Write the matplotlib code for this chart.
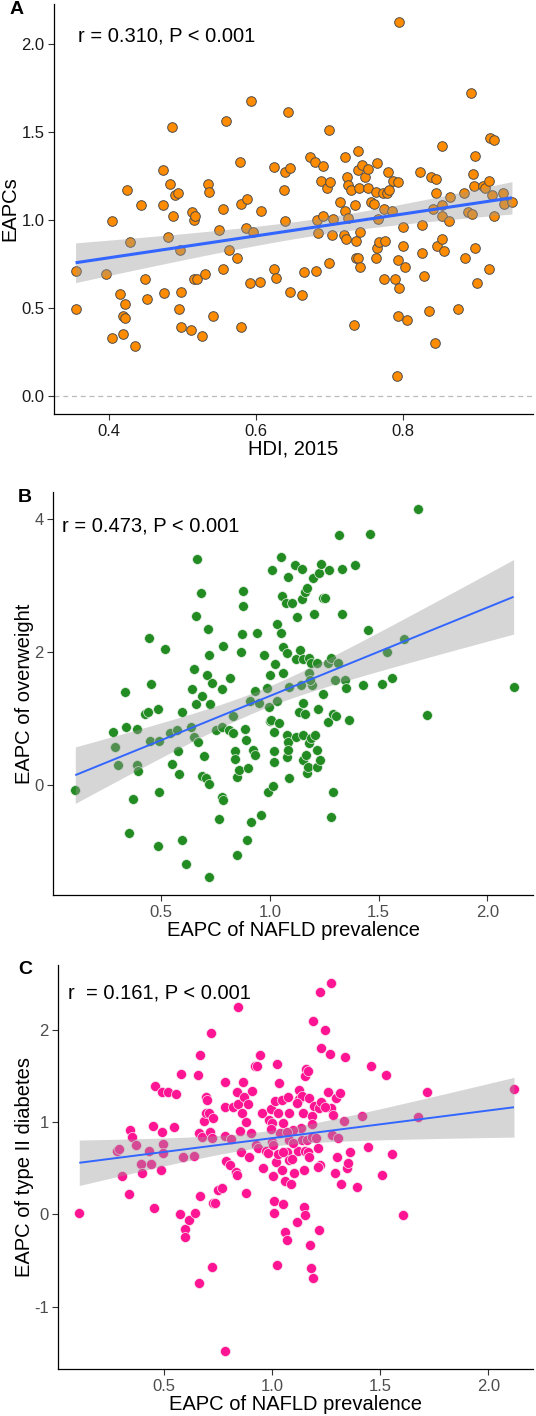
import numpy as np
import matplotlib
matplotlib.use("Agg")
import matplotlib.pyplot as plt

plt.rcParams['font.family'] = ['Liberation Sans', 'DejaVu Sans']
plt.rcParams['axes.unicode_minus'] = False

# ---------------- Panel A data: HDI 2015 vs EAPCs ----------------
hdi = [0.354, 0.354, 0.396, 0.403, 0.404, 0.415, 0.419, 0.421, 0.418, 0.421,
       0.424, 0.428, 0.435, 0.443, 0.448, 0.452, 0.473, 0.473, 0.475, 0.480,
       0.483, 0.486, 0.487, 0.490, 0.493, 0.495, 0.497, 0.498, 0.498, 0.512,
       0.513, 0.515, 0.517, 0.516, 0.519, 0.527, 0.531, 0.534, 0.536, 0.541,
       0.550, 0.555, 0.555, 0.559, 0.563, 0.574, 0.578, 0.579, 0.579, 0.586,
       0.588, 0.592, 0.593, 0.596, 0.605, 0.607, 0.624, 0.625, 0.627, 0.638,
       0.639, 0.640, 0.643, 0.646, 0.646,
       0.663, 0.666, 0.674, 0.680, 0.682, 0.683, 0.684, 0.688, 0.691, 0.692,
       0.697, 0.699, 0.700, 0.701, 0.703, 0.705, 0.715, 0.720, 0.721, 0.721,
       0.723, 0.724, 0.726, 0.726, 0.729, 0.734, 0.735, 0.737, 0.737, 0.739,
       0.739, 0.739, 0.741, 0.742, 0.742, 0.744, 0.749, 0.753, 0.753, 0.757,
       0.761, 0.763, 0.763, 0.765, 0.765, 0.766, 0.768, 0.773, 0.774, 0.775,
       0.776, 0.778, 0.780, 0.782, 0.785, 0.787, 0.790, 0.792, 0.793, 0.793,
       0.794, 0.795, 0.795, 0.800, 0.801, 0.803, 0.806, 0.823, 0.826, 0.826,
       0.829, 0.836, 0.838, 0.845, 0.841, 0.844, 0.845, 0.847, 0.854, 0.854,
       0.854, 0.854, 0.857, 0.863, 0.864, 0.876, 0.883, 0.885, 0.889, 0.894,
       0.893, 0.896, 0.897, 0.898, 0.899, 0.902, 0.909, 0.912, 0.918, 0.918,
       0.919, 0.925, 0.922, 0.924, 0.937, 0.938, 0.949]
eapc_a = [0.712, 0.491, 0.693, 0.992, 0.330, 0.581, 0.353, 0.522, 0.453, 0.440,
          1.171, 0.873, 0.281, 1.082, 0.662, 0.552, 1.281, 1.082, 0.583, 0.901,
          1.203, 1.531, 1.023, 1.142, 1.152, 0.491, 0.831, 0.590, 0.393, 0.372,
          1.044, 1.000, 1.023, 0.662, 0.662, 0.342, 0.693, 1.203, 1.161, 0.453,
          0.941, 1.061, 0.723, 1.564, 0.831, 0.782, 1.332, 1.093, 0.393, 0.953,
          1.121, 0.639, 1.674, 0.934, 0.649, 1.051, 0.723, 1.302, 0.672, 1.171,
          1.273, 0.992, 1.613, 1.294, 0.592,
          0.573, 0.702, 1.355, 1.330, 0.712, 1.000, 0.924, 1.222, 1.304, 1.023,
          1.184, 0.753, 1.512, 1.213, 0.913, 1.004, 1.102, 0.913, 1.355, 1.053,
          0.894, 1.245, 1.008, 1.197, 1.171, 0.402, 1.082, 0.882, 0.782, 0.782,
          1.393, 1.283, 1.180, 0.934, 0.732, 1.311, 1.245, 1.292, 1.180, 1.104,
          1.093, 1.161, 0.782, 0.841, 1.323, 1.004, 0.873, 1.152, 1.061, 0.662,
          0.882, 1.152, 1.273, 1.171, 1.053, 1.222, 0.662, 0.110, 0.453, 0.772,
          1.213, 0.613, 2.123, 0.962, 0.852, 0.732, 0.431, 1.271, 0.812, 0.972,
          0.681, 0.482, 1.243, 1.231, 1.063, 0.302, 1.152, 0.852, 0.892, 1.421,
          1.023, 1.083, 0.822, 0.992, 1.133, 0.491, 1.152, 0.782, 1.044, 1.032,
          1.723, 1.262, 1.194, 1.362, 0.843, 0.641, 1.194, 1.184, 1.222, 0.723,
          1.465, 1.453, 1.142, 1.023, 1.152, 1.091, 1.102]

# ---------------- Panel B data: NAFLD EAPC vs overweight EAPC ----------------
nafld_b = [0.106, 0.279, 0.290, 0.302, 0.335, 0.341, 0.351, 0.370, 0.390, 0.391,
           0.396, 0.425, 0.439, 0.446, 0.451, 0.455, 0.485, 0.491, 0.492, 0.488,
           0.517, 0.540, 0.552, 0.574, 0.577, 0.583, 0.595, 0.595, 0.613, 0.636,
           0.642, 0.653, 0.653, 0.662, 0.662, 0.664, 0.671, 0.684, 0.690, 0.698,
           0.688, 0.705, 0.714, 0.719, 0.722, 0.713, 0.725, 0.734, 0.722, 0.753,
           0.767, 0.780, 0.782, 0.783, 0.782, 0.783, 0.811, 0.816, 0.832, 0.832,
           0.842, 0.840, 0.849, 0.851, 0.860, 0.868, 0.871, 0.878, 0.878, 0.888,
           0.892, 0.895, 0.898, 0.907, 0.915, 0.924, 0.934, 0.932, 0.941, 0.952,
           0.958, 0.973, 0.986, 0.990, 0.998, 1.001, 1.006, 1.003, 1.009, 1.013,
           1.019, 1.019, 1.021, 1.024, 1.032, 1.033, 1.044, 1.051, 1.051, 1.056,
           1.061, 1.062, 1.073, 1.078, 1.078, 1.078, 1.085, 1.090, 1.090, 1.084,
           1.085,
           1.118, 1.124, 1.122, 1.119, 1.133, 1.140, 1.142, 1.146, 1.150, 1.151,
           1.151, 1.155, 1.155, 1.160, 1.165, 1.160, 1.171, 1.172, 1.175, 1.180,
           1.182, 1.182, 1.188, 1.191, 1.195, 1.200, 1.203, 1.209, 1.215, 1.218,
           1.220, 1.217, 1.225, 1.231, 1.235, 1.243, 1.246, 1.253, 1.268, 1.270,
           1.268, 1.280, 1.280, 1.290, 1.292, 1.298, 1.304, 1.313, 1.319, 1.330,
           1.332, 1.348, 1.352, 1.362, 1.390, 1.428, 1.452, 1.463, 1.514, 1.537,
           1.563, 1.619, 1.683, 1.725, 2.121, 1.101, 1.185]
overweight = [-0.075, 0.791, 0.576, 0.300, 1.402, 0.866, -0.716, -0.215, 0.305, 0.836,
              0.210, 1.066, 1.101, 2.213, 0.656, 1.522, 1.136, 0.661, -0.100, -0.916,
              2.048, 0.786, 0.315, 0.831, 0.506, 0.170, -0.821, 1.101, -1.186, 0.876,
              1.447, 1.747, 0.726, 1.212, 2.538, 3.399, 0.651, 2.889, 1.337, 0.436,
              0.135, 0.100, 2.343, 1.952, 0.010, 1.647, 1.212, 1.537, -1.377, 0.826,
              -0.506, 1.437, 0.866, 2.088, -0.180, -0.225, 0.826, 1.612, 1.036, 0.776,
              0.516, 0.395, -1.051, 0.120, 0.225, 1.993, 2.273, 2.909, 2.688, 0.841,
              0.676, -0.831, 0.250, 1.262, -0.561, 0.526, 0.451, 1.407, 2.278, 1.237,
              -0.451, 1.957, 1.462, -0.105, 1.166, 0.961, 0.976, 1.647, 3.229, -0.010,
              0.791, 0.516, 0.340, 1.812, 2.413, 1.257, 0.936, 3.419, 2.278, 2.844,
              2.078, 1.677, 2.739, 0.426, 1.977, 0.751, 3.119, 1.477, 0.100, 0.651,
              0.526,
              3.299, 2.518, 1.887, 0.726, 1.096, 2.028, 1.502, 2.793, 3.244, 1.887,
              1.237, 0.375, 0.751, 1.061, 0.451, 2.904, 2.954, 0.175, 0.275, 0.636,
              1.902, 1.677, 1.837, 0.701, 1.502, 3.114, 2.573, 0.751, 0.526, 1.827,
              1.136, 0.275, 3.179, 0.375, 3.319, 2.803, 1.362, 2.803, 1.827, 3.224,
              0.941, 1.912, -0.486, 1.061, -0.100, 1.577, 1.036, 1.837, 3.760, 3.244,
              2.568, 1.577, 1.452, 0.976, 3.304, 1.502, 2.323, 3.775, 1.512, 1.993,
              1.612, 2.188, 4.140, 1.051, 1.472, 2.734, 1.577]

# ---------------- Panel C data: NAFLD EAPC vs type II diabetes EAPC ----------------
nafld_c = [0.108, 0.284, 0.293, 0.306, 0.338, 0.344, 0.353, 0.370, 0.395, 0.397,
           0.429, 0.441, 0.449, 0.452, 0.458, 0.485, 0.489, 0.492, 0.495, 0.495,
           0.518, 0.545, 0.556, 0.576, 0.579, 0.586, 0.599, 0.599, 0.617, 0.640,
           0.645, 0.659, 0.662, 0.665, 0.665, 0.662, 0.676, 0.685, 0.696, 0.700,
           0.693, 0.708, 0.714, 0.720, 0.725, 0.717, 0.724, 0.725, 0.736, 0.751,
           0.768, 0.782, 0.782, 0.784, 0.787, 0.782, 0.804, 0.810, 0.820, 0.833,
           0.839, 0.841, 0.839, 0.844, 0.851, 0.855, 0.859, 0.867, 0.872, 0.879,
           0.878, 0.887, 0.895, 0.901, 0.908, 0.919, 0.930, 0.924, 0.936, 0.944,
           0.952, 0.959, 0.970, 0.979, 0.987, 0.993, 1.001, 1.006, 1.009, 1.010,
           1.015, 1.018, 1.021, 1.023, 1.026, 1.029, 1.033, 1.036, 1.044, 1.046,
           1.052, 1.052, 1.060, 1.060, 1.070, 1.070, 1.075, 1.080, 1.080, 1.080,
           1.087, 1.101, 1.117, 1.121, 1.124, 1.126, 1.132, 1.137, 1.140, 1.144,
           1.149, 1.149, 1.152, 1.152, 1.155, 1.153, 1.163, 1.167, 1.164, 1.172,
           1.171, 1.175, 1.181, 1.186, 1.186, 1.187, 1.191, 1.186, 1.192, 1.203,
           1.213, 1.217, 1.217, 1.220, 1.221, 1.224, 1.227, 1.246, 1.257, 1.268,
           1.271, 1.272, 1.278, 1.280, 1.293, 1.295, 1.298, 1.306, 1.314, 1.320,
           1.332, 1.336, 1.348, 1.352, 1.361, 1.391, 1.417, 1.443, 1.457, 1.510,
           1.527, 1.555, 1.607, 1.673, 1.715, 2.119,
           1.114, 1.245, 0.999, 0.993, 1.098, 1.067, 1.098, 1.006, 1.052, 1.090,
           1.214]
diabetes = [0.011, 0.683, 0.705, 0.416, 0.220, 0.914, 0.842, 0.752, 0.546, 0.445,
            0.683, 0.542, 0.958, 0.069, 1.395, 0.481, 0.889, 1.323, 0.766, 0.661,
            1.330, 0.943, 1.308, 0.007, 1.521, 0.618, -0.155, -0.242, -0.061, 0.632,
            0.011, 1.511, 0.878, 0.199, 1.731, -0.744, 0.838, 1.016, 1.276, 1.240,
            1.102, 1.095, 0.893, 0.824, 1.044, 1.962, -0.567, 0.119, 0.119, 0.264,
            0.282, 1.438, 0.849, 1.167, 0.582, -1.482, 0.535, 0.813, 1.160, 0.463,
            0.426, 2.248, 1.323, 1.196, 0.907, 0.679, 1.102, 1.431, 1.276, 1.005,
            0.235, 1.196, 0.618, 0.878, 1.341, 1.608, 1.608, 0.748, 0.716, 1.731,
            1.095, 0.499, 0.690, 0.661, 1.019, 1.138, 0.784, 0.416, 0.145, 0.018,
            1.229, 0.567, 1.630, -0.549, 0.654, 1.102, 1.420, 0.878, 1.240, 0.481,
            0.112, 0.994, 0.361, -0.188, 0.679, -0.278, 1.276, 1.095, 0.806, 0.589,
            0.325, 0.452, -0.080, 0.687, 1.348, 1.247, 0.932, 0.806, 1.283, 1.095,
            0.481, 0.076, -0.007, 0.690, 1.576, 1.503, 0.806, 0.679, 1.554, 0.618,
            1.258, -0.336, -0.585, 1.066, 0.979, 2.096, -0.687, 0.842, 1.174, 0.824,
            0.716, 1.156, -0.170, 2.407, 0.538, 1.800, 1.222, 1.999, 1.323, 1.735,
            2.505, 1.149, 0.860, 1.077, 0.445, 1.265, 0.618, 0.824, 1.312, 0.329,
            1.012, 1.702, 0.499, 0.560, 0.672, 0.300, 1.070, 0.734, 1.612, 0.426,
            1.511, 0.651, -0.007, 1.059, 1.323, 1.355,
            1.211, 1.167, 0.987, 0.925, 0.914, 0.896, 0.777, 0.752, 0.679, 0.600,
            0.517]

W, H = 536, 1416
fig = plt.figure(figsize=(W / 100, H / 100), dpi=100)


def px_axes(left, top, right, bottom):
    return fig.add_axes([left / W, 1 - bottom / H, (right - left) / W, (bottom - top) / H])


def lm_band(ax, x, y, lw):
    x = np.asarray(x, float)
    y = np.asarray(y, float)
    n = len(x)
    b, a = np.polyfit(x, y, 1)
    xs = np.linspace(x.min(), x.max(), 100)
    yhat = a + b * xs
    resid = y - (a + b * x)
    s = np.sqrt(np.sum(resid ** 2) / (n - 2))
    sxx = np.sum((x - x.mean()) ** 2)
    se = s * np.sqrt(1.0 / n + (xs - x.mean()) ** 2 / sxx)
    t = 1.973
    ax.fill_between(xs, yhat - t * se, yhat + t * se, color='#999999', alpha=0.4,
                    linewidth=0, zorder=3)
    ax.plot(xs, yhat, color='#3366FF', lw=lw, zorder=4, solid_capstyle='butt')


def style(ax, tick_color):
    for sp in ['top', 'right']:
        ax.spines[sp].set_visible(False)
    for sp in ['left', 'bottom']:
        ax.spines[sp].set_color('black')
        ax.spines[sp].set_linewidth(0.9)
    ax.tick_params(axis='both', length=4, width=0.8, color='#333333',
                   labelsize=12, labelcolor=tick_color, pad=3)


# ---------- Panel A ----------
axA = px_axes(54, 4, 533, 414)
axA.axhline(0, color='#BBBBBB', lw=0.9, ls=(0, (4, 3)), zorder=1)
axA.scatter(hdi, eapc_a, s=48, facecolor='#FF8C00', edgecolor='#4D4D4D',
            linewidths=0.7, zorder=2)
lm_band(axA, hdi, eapc_a, 2.2)
axA.set_xlim(0.3246, 0.9777)
axA.set_ylim(-0.104, 2.228)
axA.set_xticks([0.4, 0.6, 0.8])
axA.set_xticklabels(['0.4', '0.6', '0.8'])
axA.set_yticks([0.0, 0.5, 1.0, 1.5, 2.0])
axA.set_yticklabels(['0.0', '0.5', '1.0', '1.5', '2.0'])
style(axA, '#1a1a1a')
axA.set_xlabel('HDI, 2015', fontsize=14.5, va='center')
axA.set_ylabel('EAPCs', fontsize=14.5, va='center')
axA.xaxis.set_label_coords(0.5, -0.086)
axA.yaxis.set_label_coords(-0.092, 0.5)
axA.text(0.357, 2.046, 'r = 0.310, P < 0.001', fontsize=14.5, ha='left', va='center')
fig.text(17 / W, 1 - 10 / H, 'A', fontsize=14, fontweight='bold', ha='center', va='center')

# ---------- Panel B ----------
axB = px_axes(53.3, 491.7, 533, 895)
axB.scatter(nafld_b, overweight, s=50, facecolor='#228B22', edgecolor='#E8F0E8',
            linewidths=0.5, zorder=2)
lm_band(axB, nafld_b, overweight, 1.4)
axB.set_xlim(0.005, 2.21)
axB.set_ylim(-1.652, 4.405)
axB.set_xticks([0.5, 1.0, 1.5, 2.0])
axB.set_xticklabels(['0.5', '1.0', '1.5', '2.0'])
axB.set_yticks([0, 2, 4])
style(axB, '#4D4D4D')
axB.set_xlabel('EAPC of NAFLD prevalence', fontsize=14.5, va='center')
axB.set_ylabel('EAPC of overweight', fontsize=14.5, va='center')
axB.xaxis.set_label_coords(0.5, -0.087)
axB.yaxis.set_label_coords(-0.059, 0.5)
axB.text(0.046, 3.89, 'r = 0.473, P < 0.001', fontsize=14.5, ha='left', va='center')
fig.text(25 / W, 1 - 497 / H, 'B', fontsize=14, fontweight='bold', ha='center', va='center')

# ---------- Panel C ----------
axC = px_axes(58.3, 965, 533, 1369)
axC.scatter(nafld_c, diabetes, s=52, facecolor='#FF1493', edgecolor='#F5E6EE',
            linewidths=0.5, zorder=2)
lm_band(axC, nafld_c, diabetes, 1.4)
axC.set_xlim(0.011, 2.207)
axC.set_ylim(-1.677, 2.703)
axC.set_xticks([0.5, 1.0, 1.5, 2.0])
axC.set_xticklabels(['0.5', '1.0', '1.5', '2.0'])
axC.set_yticks([-1, 0, 1, 2])
style(axC, '#4D4D4D')
axC.set_xlabel('EAPC of NAFLD prevalence', fontsize=14.5, va='center')
axC.set_ylabel('EAPC of type II diabetes', fontsize=14.5, va='center')
axC.xaxis.set_label_coords(0.5, -0.089)
axC.yaxis.set_label_coords(-0.072, 0.5)
axC.text(0.058, 2.403, 'r  = 0.161, P < 0.001', fontsize=14.5, ha='left', va='center')
fig.text(25 / W, 1 - 970 / H, 'C', fontsize=14, fontweight='bold', ha='center', va='center')

fig.savefig('out.png', dpi=100, facecolor='white')
